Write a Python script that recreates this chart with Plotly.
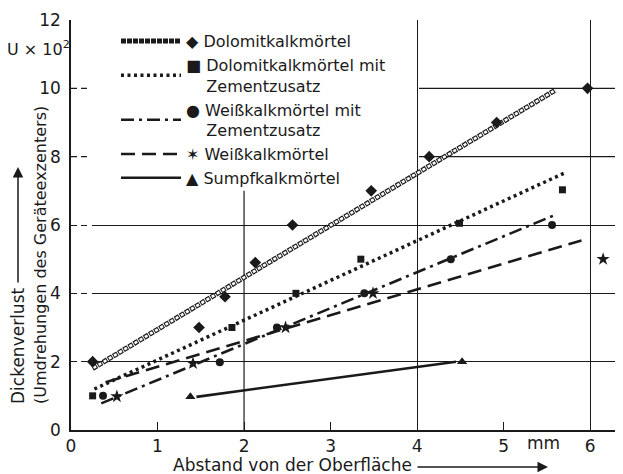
import plotly.graph_objects as go

# ---------------- data ----------------
dolo_x = [0.25, 1.48, 1.78, 2.13, 2.56, 3.47, 4.14, 4.92, 5.97]
dolo_y = [2.0, 3.0, 3.9, 4.9, 6.0, 7.0, 8.0, 9.0, 10.0]
dolo_fit_x = [0.25, 5.6]
dolo_fit_y = [1.8, 9.95]

dz_x = [0.25, 1.86, 2.6, 3.35, 4.49, 5.68]
dz_y = [1.0, 3.0, 4.0, 5.0, 6.05, 7.03]
dz_fit_x = [0.27, 5.71]
dz_fit_y = [1.2, 7.53]

wz_x = [0.37, 1.72, 2.38, 3.39, 4.39, 5.56]
wz_y = [1.0, 1.98, 3.0, 4.0, 5.0, 6.0]
wz_fit_x = [0.35, 5.6]
wz_fit_y = [0.78, 6.3]

w_x = [0.53, 1.41, 2.48, 3.49, 6.15]
w_y = [0.98, 1.95, 3.0, 4.0, 5.0]
w_fit_x = [0.4, 5.9]
w_fit_y = [1.4, 5.55]

s_x = [1.38, 4.52]
s_y = [0.97, 2.0]
s_fit_x = [1.45, 4.45]
s_fit_y = [0.97, 2.0]

names = [
    "\u25c6 Dolomitkalkmörtel",
    "\u25a0 Dolomitkalkmörtel mit<br>    Zementzusatz",
    "\u25cf Weißkalkmörtel mit<br>    Zementzusatz",
    "\u2736 Weißkalkmörtel",
    "\u25b2 Sumpfkalkmörtel",
]

x_ticks = [0, 1, 2, 3, 4, 5, 6]
y_ticks = [0, 2, 4, 6, 8, 10, 12]

FONT = "DejaVu Sans, sans-serif"
INK = "#1a1a1a"

fig = go.Figure()

# Dolomitkalkmörtel: chain of small open circles (emulated by two dash layers)
fig.add_trace(go.Scatter(x=dolo_fit_x, y=dolo_fit_y, mode="lines", name=names[0],
                         legendgroup="a",
                         line=dict(color=INK, width=5, dash="5px,1px")))
fig.add_trace(go.Scatter(x=dolo_fit_x, y=dolo_fit_y, mode="lines", showlegend=False,
                         legendgroup="a", hoverinfo="skip",
                         line=dict(color="white", width=2.6, dash="0px,1px,3px,2px")))
fig.add_trace(go.Scatter(x=dolo_x, y=dolo_y, mode="markers", showlegend=False,
                         marker=dict(symbol="diamond", size=9, color=INK)))

# Dolomitkalkmörtel mit Zementzusatz: bold dotted
fig.add_trace(go.Scatter(x=dz_fit_x, y=dz_fit_y, mode="lines", name=names[1],
                         line=dict(color=INK, width=3.5, dash="3px,3.5px")))
fig.add_trace(go.Scatter(x=dz_x, y=dz_y, mode="markers", showlegend=False,
                         marker=dict(symbol="square", size=7, color=INK)))

# Weißkalkmörtel mit Zementzusatz: dash-dot
fig.add_trace(go.Scatter(x=wz_fit_x, y=wz_fit_y, mode="lines", name=names[2],
                         line=dict(color=INK, width=2.6, dash="13px,5px,3px,5px")))
fig.add_trace(go.Scatter(x=wz_x, y=wz_y, mode="markers", showlegend=False,
                         marker=dict(symbol="circle", size=8, color=INK)))

# Weißkalkmörtel: dashed
fig.add_trace(go.Scatter(x=w_fit_x, y=w_fit_y, mode="lines", name=names[3],
                         line=dict(color=INK, width=2.6, dash="14px,7px")))
fig.add_trace(go.Scatter(x=w_x, y=w_y, mode="markers", showlegend=False,
                         marker=dict(symbol="star", size=10, color=INK)))

# Sumpfkalkmörtel: solid
fig.add_trace(go.Scatter(x=s_fit_x, y=s_fit_y, mode="lines", name=names[4],
                         line=dict(color=INK, width=2.6)))
fig.add_trace(go.Scatter(x=s_x, y=s_y, mode="markers", showlegend=False,
                         marker=dict(symbol="triangle-up", size=9, color=INK)))

fig.update_layout(
    width=615, height=466,
    margin=dict(l=63, r=0, t=12, b=44),
    paper_bgcolor="white", plot_bgcolor="white",
    font=dict(family=FONT, size=16, color=INK),
    showlegend=True,
    legend=dict(x=0.0815, y=0.99, xanchor="left", yanchor="top",
                bgcolor="rgba(255,255,255,0)", borderwidth=0, itemwidth=60,
                font=dict(family=FONT, size=16, color=INK),
                tracegroupgap=0),
)

GRID_DASH = "6px,4px,6px,5px,3000px"

fig.update_xaxes(
    range=[0, 6.38], tickvals=x_ticks, ticktext=[str(v) for v in x_ticks],
    showline=True, linecolor=INK, linewidth=1.6,
    ticks="inside", ticklen=8, tickwidth=1.2, tickcolor=INK,
    showgrid=False, zeroline=False,
    tickfont=dict(family=FONT, size=17, color=INK),
    minor=dict(tickvals=[4, 6], showgrid=True, gridcolor=INK, gridwidth=1.2, ticks=""),
)
fig.update_yaxes(
    range=[0, 12], tickvals=y_ticks, ticktext=[str(v) for v in y_ticks],
    showline=True, linecolor=INK, linewidth=1.6,
    ticks="", showgrid=False,
    zeroline=False, ticklabelstandoff=5,
    tickfont=dict(family=FONT, size=17, color=INK),
    minor=dict(tickvals=[2, 4, 6, 12], showgrid=True, gridcolor=INK, gridwidth=1.2,
               griddash=GRID_DASH, ticks=""),
)

# grid lines partly hidden behind the legend block (as in the original print)
for gy in [8, 10]:
    fig.add_shape(type="line", xref="x", yref="y", x0=0, x1=6.38, y0=gy, y1=gy,
                  layer="below", line=dict(color=INK, width=1.2, dash="6px,4px,6px,332px,3000px"))
fig.add_shape(type="line", xref="x", yref="y", x0=2, x1=2, y0=0, y1=7.0,
              layer="below", line=dict(color=INK, width=1.2))

def py2paper(py):
    return (430 - py) / 410.0

def px2paper(px):
    return (px - 71) / 552.0

# y-axis titles (two rotated lines, bottom aligned)
fig.add_annotation(text="Dickenverlust", textangle=-90, showarrow=False,
                   xref="paper", yref="paper", x=px2paper(18), y=py2paper(406),
                   xanchor="center", yanchor="bottom", font=dict(family=FONT, size=17, color=INK))
fig.add_annotation(text="(Umdrehungen des Geräteexzenters)", textangle=-90, showarrow=False,
                   xref="paper", yref="paper", x=px2paper(40), y=py2paper(406),
                   xanchor="center", yanchor="bottom", font=dict(family=FONT, size=16, color=INK))
# vertical arrow
fig.add_annotation(text="", xref="paper", yref="paper", x=px2paper(18), y=py2paper(167),
                   ax=0, ay=117, showarrow=True, arrowhead=2, arrowsize=1.4,
                   arrowwidth=1.5, arrowcolor=INK)
# U x 10^2
fig.add_annotation(text="U × 10<sup>2</sup>", showarrow=False, xref="paper", yref="paper",
                   x=px2paper(38), y=py2paper(49), xanchor="center", yanchor="middle",
                   font=dict(family=FONT, size=16, color=INK))
# x title and arrow
fig.add_annotation(text="Abstand von der Oberfläche", showarrow=False, xref="paper", yref="paper",
                   x=px2paper(171), y=py2paper(465), xanchor="left", yanchor="middle",
                   font=dict(family=FONT, size=17, color=INK))
fig.add_annotation(text="", xref="paper", yref="paper", x=px2paper(548), y=py2paper(467),
                   ax=-132, ay=0, showarrow=True, arrowhead=2, arrowsize=1.4,
                   arrowwidth=1.5, arrowcolor=INK)
# unit
fig.add_annotation(text="mm", showarrow=False, xref="x", yref="paper",
                   x=5.46, y=py2paper(443), xanchor="center", yanchor="middle",
                   font=dict(family=FONT, size=17, color=INK))

fig.write_html("out.html")
